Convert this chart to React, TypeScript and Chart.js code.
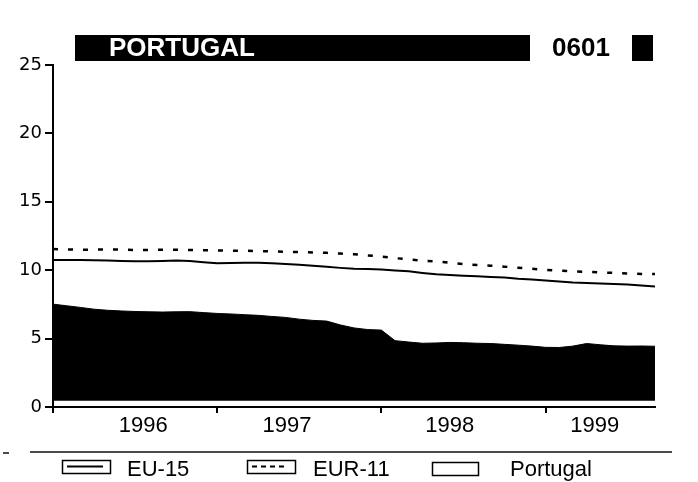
import React, { useEffect, useRef } from 'react';
import { Chart, registerables } from 'chart.js';

Chart.register(...registerables);

// ---- data ----
const months = [
  '1996-01','1996-02','1996-03','1996-04','1996-05','1996-06','1996-07','1996-08','1996-09','1996-10','1996-11','1996-12',
  '1997-01','1997-02','1997-03','1997-04','1997-05','1997-06','1997-07','1997-08','1997-09','1997-10','1997-11','1997-12',
  '1998-01','1998-02','1998-03','1998-04','1998-05','1998-06','1998-07','1998-08','1998-09','1998-10','1998-11','1998-12',
  '1999-01','1999-02','1999-03','1999-04','1999-05','1999-06','1999-07','1999-08','1999-09',
];

const eu15 = [
  10.75, 10.75, 10.75, 10.72, 10.70, 10.68, 10.66, 10.65, 10.68, 10.70, 10.68, 10.58,
  10.50, 10.52, 10.55, 10.55, 10.50, 10.45, 10.40, 10.33, 10.25, 10.17, 10.10, 10.08,
  10.05, 9.98, 9.92, 9.80, 9.70, 9.65, 9.60, 9.55, 9.50, 9.47, 9.38, 9.32,
  9.25, 9.18, 9.10, 9.06, 9.02, 8.99, 8.95, 8.88, 8.80,
];

const eur11 = [
  11.55, 11.52, 11.50, 11.50, 11.52, 11.50, 11.48, 11.48, 11.50, 11.50, 11.48, 11.45,
  11.45, 11.43, 11.43, 11.40, 11.38, 11.35, 11.32, 11.30, 11.27, 11.22, 11.17, 11.08,
  11.00, 10.88, 10.80, 10.70, 10.65, 10.55, 10.45, 10.38, 10.33, 10.26, 10.18, 10.10,
  10.02, 9.96, 9.92, 9.88, 9.84, 9.80, 9.76, 9.73, 9.72,
];

const portugal = [
  7.52, 7.40, 7.28, 7.15, 7.07, 7.02, 6.98, 6.96, 6.94, 6.96, 6.97, 6.90,
  6.84, 6.80, 6.75, 6.70, 6.62, 6.55, 6.42, 6.33, 6.28, 6.00, 5.78, 5.66,
  5.62, 4.85, 4.75, 4.66, 4.68, 4.72, 4.70, 4.66, 4.64, 4.58, 4.52, 4.45,
  4.36, 4.35, 4.45, 4.64, 4.55, 4.47, 4.45, 4.46, 4.44,
];

const yearLabels = ['1996', '1997', '1998', '1999'];
const yearLabelAt = [6.6, 17.1, 29.0, 39.6];
const yearStartAt = [0, 12, 24, 36];
const yTicks = [0, 5, 10, 15, 20, 25];

const titleText = 'PORTUGAL';
const codeText = '0601';

const FONT = "'Liberation Sans', Arial, sans-serif";
const YFONT = "'DejaVu Sans', sans-serif";

const toPoints = (vals: number[]) => vals.map((y, i) => ({ x: i, y }));

const decorPlugin = {
  id: 'decor',
  beforeDraw(chart: any) {
    const ctx = chart.ctx;
    ctx.save();
    ctx.fillStyle = '#fff';
    ctx.fillRect(0, 0, chart.width, chart.height);
    ctx.restore();
  },
  afterDraw(chart: any) {
    const ctx = chart.ctx;
    ctx.save();
    // title bar
    ctx.fillStyle = '#000';
    ctx.fillRect(75, 35, 455, 26);
    ctx.fillRect(632, 35, 21, 26);
    ctx.font = `bold 26px ${FONT}`;
    ctx.textBaseline = 'alphabetic';
    ctx.textAlign = 'left';
    ctx.fillStyle = '#fff';
    ctx.fillText(titleText, 109, 56);
    ctx.fillStyle = '#000';
    ctx.fillText(codeText, 552, 56);

    // legend separator
    ctx.strokeStyle = '#111';
    ctx.lineWidth = 1.5;
    ctx.beginPath();
    ctx.moveTo(30, 452);
    ctx.lineTo(672, 452);
    ctx.moveTo(3, 453);
    ctx.lineTo(9, 453);
    ctx.stroke();

    // legend items
    const boxes = [
      { x: 62, w: 48, y: 460, h: 13, tx: 127 },
      { x: 247, w: 48, y: 460, h: 13, tx: 313 },
      { x: 432, w: 46, y: 462, h: 13, tx: 510 },
    ];
    const ds = chart.data.datasets;
    ds.forEach((d: any, i: number) => {
      const b = boxes[i];
      ctx.strokeStyle = '#000';
      ctx.lineWidth = 1.5;
      ctx.setLineDash([]);
      ctx.strokeRect(b.x + 0.5, b.y + 0.5, b.w, b.h);
      if (!d.fill) {
        ctx.lineWidth = 2;
        ctx.setLineDash(d.borderDash && d.borderDash.length ? [5, 4] : []);
        ctx.beginPath();
        ctx.moveTo(b.x + 5, b.y + 6.5);
        ctx.lineTo(b.x + b.w - 7, b.y + 6.5);
        ctx.stroke();
        ctx.setLineDash([]);
      }
      ctx.fillStyle = '#000';
      ctx.font = `22px ${FONT}`;
      ctx.textBaseline = 'alphabetic';
      ctx.fillText(d.label, b.tx, 476);
    });
    ctx.restore();
  },
};

export default function App() {
  const ref = useRef<HTMLCanvasElement | null>(null);

  useEffect(() => {
    if (!ref.current) return;
    const chart = new Chart(ref.current, {
      type: 'line',
      data: {
        datasets: [
          {
            label: 'EU-15',
            data: toPoints(eu15),
            borderColor: '#000',
            borderWidth: 2,
            pointRadius: 0,
            fill: false,
            tension: 0,
          },
          {
            label: 'EUR-11',
            data: toPoints(eur11),
            borderColor: '#000',
            borderWidth: 2.5,
            borderDash: [5, 10],
            pointRadius: 0,
            fill: false,
            tension: 0,
          },
          {
            label: 'Portugal',
            data: toPoints(portugal),
            borderColor: '#000',
            backgroundColor: '#000',
            borderWidth: 1,
            pointRadius: 0,
            fill: { value: 0.45 },
            tension: 0,
          },
        ],
      },
      options: {
        responsive: false,
        animation: false,
        devicePixelRatio: 1,
        layout: { padding: { left: 0, top: 65, right: 43, bottom: 39 } },
        plugins: {
          legend: { display: false },
          tooltip: { enabled: false },
          title: { display: false },
        },
        scales: {
          y: {
            type: 'linear',
            min: 0,
            max: 25,
            afterBuildTicks: (s: any) => {
              s.ticks = yTicks.map((v) => ({ value: v }));
            },
            ticks: { font: { family: YFONT, size: 18 }, color: '#000', padding: 3 },
            grid: { drawOnChartArea: false, tickLength: 8, color: '#000', lineWidth: 2 },
            border: { display: true, color: '#000', width: 2 },
            afterFit: (s: any) => {
              s.width = 53;
            },
          },
          x: {
            type: 'linear',
            position: 'bottom',
            weight: 0,
            min: 0,
            max: months.length - 1,
            afterBuildTicks: (s: any) => {
              s.ticks = yearStartAt.map((v) => ({ value: v }));
            },
            ticks: { display: false },
            grid: { drawOnChartArea: false, tickLength: 6, color: '#000', lineWidth: 2 },
            border: { display: true, color: '#000', width: 2 },
            afterFit: (s: any) => {
              s.height = 6;
            },
          },
          x2: {
            type: 'linear',
            position: 'bottom',
            weight: 1,
            min: 0,
            max: months.length - 1,
            afterBuildTicks: (s: any) => {
              s.ticks = yearLabelAt.map((v) => ({ value: v }));
            },
            ticks: {
              font: { family: FONT, size: 22 },
              color: '#000',
              padding: 0,
              maxRotation: 0,
              autoSkip: false,
              callback: (_v: any, i: number) => yearLabels[i],
            },
            grid: { display: false, drawTicks: false },
            border: { display: false },
            afterFit: (s: any) => {
              s.height = 30;
            },
          },
        },
      },
      plugins: [decorPlugin],
    });
    return () => chart.destroy();
  }, []);

  return (
    <div style={{ position: 'absolute', left: 0, top: 0, width: 698, height: 482 }}>
      <canvas ref={ref} width={698} height={482} style={{ width: 698, height: 482, display: 'block' }} />
    </div>
  );
}
